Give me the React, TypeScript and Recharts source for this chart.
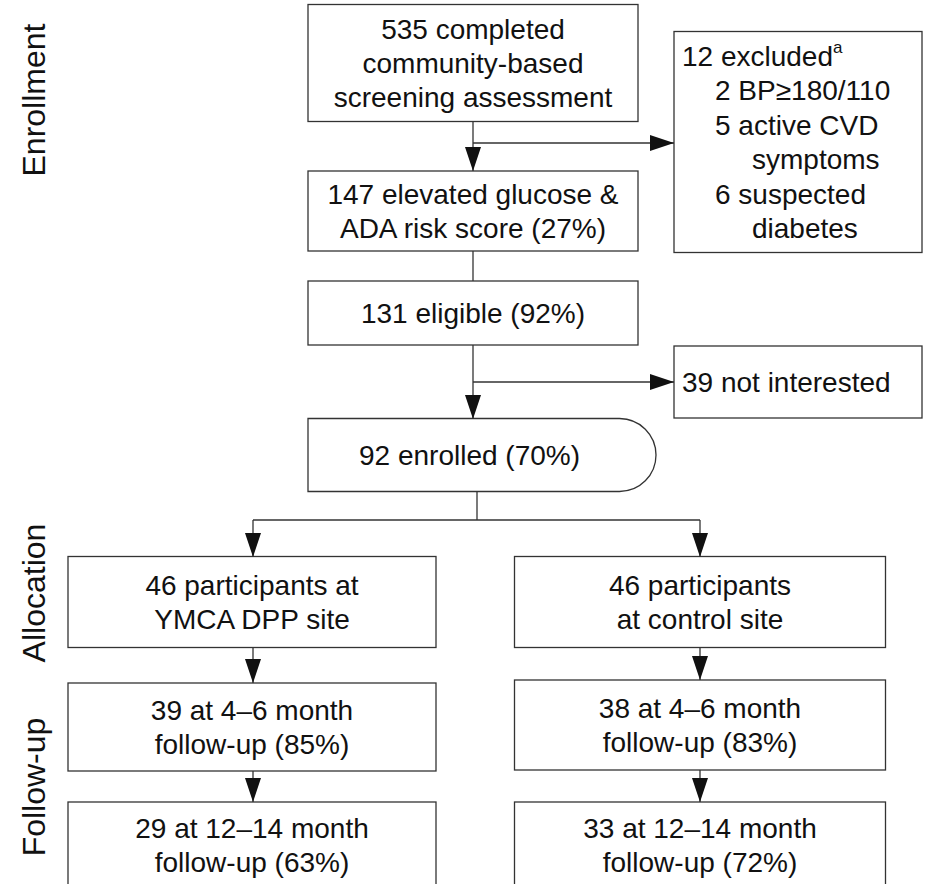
import { ScatterChart, Scatter, XAxis, YAxis, ReferenceLine } from "recharts";

const W = 926;
const H = 884;
const FONT = "'Liberation Sans', Arial, sans-serif";

// flowchart nodes: centre (x, y), size (w, h), lines of text
const boxes = [
  { x: 473, y: 63, w: 330, h: 117, lines: ["535 completed", "community-based", "screening assessment"] },
  { x: 473, y: 211, w: 330, h: 80, lines: ["147 elevated glucose &", "ADA risk score (27%)"] },
  { x: 473, y: 313, w: 330, h: 64, lines: ["131 eligible (92%)"] },
  { x: 798, y: 382, w: 248, h: 72, lines: ["39 not interested"], align: "left" },
  { x: 482, y: 455, w: 348, h: 73, lines: ["92 enrolled (70%)"], round: true },
  { x: 252, y: 602, w: 368, h: 91, lines: ["46 participants at", "YMCA DPP site"] },
  { x: 700, y: 602, w: 371, h: 91, lines: ["46 participants", "at control site"] },
  { x: 252, y: 727, w: 368, h: 88, lines: ["39 at 4\u20136 month", "follow-up (85%)"] },
  { x: 700, y: 725, w: 371, h: 90, lines: ["38 at 4\u20136 month", "follow-up (83%)"] },
  { x: 252, y: 845, w: 368, h: 86, lines: ["29 at 12\u201314 month", "follow-up (63%)"] },
  { x: 700, y: 845, w: 371, h: 86, lines: ["33 at 12\u201314 month", "follow-up (72%)"] },
];

const excludedLines = [
  { text: "12 excluded", indent: 0, sup: "a" },
  { text: "2 BP\u2265180/110", indent: 33 },
  { text: "5 active CVD", indent: 33 },
  { text: "symptoms", indent: 70 },
  { text: "6 suspected", indent: 33 },
  { text: "diabetes", indent: 70 },
];
const excludedBox = [{ x: 798, y: 142, w: 248, h: 221 }];

const segments = [
  [{ x: 473, y: 122 }, { x: 473, y: 171 }],
  [{ x: 473, y: 143 }, { x: 674, y: 143 }],
  [{ x: 473, y: 251 }, { x: 473, y: 281 }],
  [{ x: 473, y: 345 }, { x: 473, y: 419 }],
  [{ x: 473, y: 382 }, { x: 674, y: 382 }],
  [{ x: 477, y: 492 }, { x: 477, y: 520 }],
  [{ x: 253, y: 520 }, { x: 700, y: 520 }],
  [{ x: 253, y: 520 }, { x: 253, y: 557 }],
  [{ x: 700, y: 520 }, { x: 700, y: 557 }],
  [{ x: 253, y: 648 }, { x: 253, y: 683 }],
  [{ x: 700, y: 648 }, { x: 700, y: 680 }],
  [{ x: 253, y: 771 }, { x: 253, y: 802 }],
  [{ x: 700, y: 770 }, { x: 700, y: 802 }],
];

const arrowsDown = [
  { x: 473, y: 171 }, { x: 473, y: 419 }, { x: 253, y: 557 }, { x: 700, y: 557 },
  { x: 253, y: 683 }, { x: 700, y: 680 }, { x: 253, y: 802 }, { x: 700, y: 802 },
];
const arrowsRight = [{ x: 674, y: 143 }, { x: 674, y: 382 }];

const sideLabels = [
  { x: 34, y: 100, text: "Enrollment" },
  { x: 34, y: 593, text: "Allocation" },
  { x: 34, y: 787, text: "Follow-up" },
];

const BoxShape = (p: any) => {
  const { cx, cy, payload } = p;
  const { w, h, lines, round, align } = payload;
  const x0 = cx - w / 2;
  const y0 = cy - h / 2;
  const lh = 34;
  const startY = cy - ((lines.length - 1) * lh) / 2 + 10;
  let outline;
  if (round) {
    const r = h / 2;
    const xr = x0 + w - r;
    outline = (
      <path
        d={`M${x0},${y0} H${xr} A${r},${r} 0 0 1 ${xr},${y0 + h} H${x0} Z`}
        fill="#fff" stroke="#333" strokeWidth={1.3}
      />
    );
  } else {
    outline = <rect x={x0} y={y0} width={w} height={h} fill="#fff" stroke="#333" strokeWidth={1.3} />;
  }
  return (
    <g>
      {outline}
      {lines.map((t: string, i: number) => (
        <text key={i} x={align === "left" ? x0 + 8 : round ? x0 + (w - 25) / 2 : cx} y={startY + i * lh}
          textAnchor={align === "left" ? "start" : "middle"} fontSize={28} fontFamily={FONT} fill="#111">
          {t}
        </text>
      ))}
    </g>
  );
};

const ExcludedShape = (p: any) => {
  const { cx, cy, payload } = p;
  const x0 = cx - payload.w / 2;
  const y0 = cy - payload.h / 2;
  return (
    <g>
      <rect x={x0} y={y0} width={payload.w} height={payload.h} fill="#fff" stroke="#333" strokeWidth={1.3} />
      {excludedLines.map((l, i) => (
        <text key={i} x={x0 + 8 + l.indent} y={y0 + 34 + i * 34.5} fontSize={28} fontFamily={FONT} fill="#111">
          {l.text}
          {l.sup && <tspan fontSize={17} dy={-13}>{l.sup}</tspan>}
        </text>
      ))}
    </g>
  );
};

const DownArrow = (p: any) => (
  <path d={`M${p.cx},${p.cy} l-8,-24 l16,0 Z`} fill="#111" />
);
const RightArrow = (p: any) => (
  <path d={`M${p.cx},${p.cy} l-24,-8 l0,16 Z`} fill="#111" />
);
const SideLabel = (p: any) => (
  <text x={p.cx} y={p.cy} transform={`rotate(-90 ${p.cx} ${p.cy})`} textAnchor="middle"
    dominantBaseline="central" fontSize={32} fontFamily={FONT} fill="#111">
    {p.payload.text}
  </text>
);

export default function App() {
  return (
    <div style={{ position: "absolute", left: 0, top: 0, width: W, height: H, background: "#fff" }}>
      <ScatterChart width={W} height={H} margin={{ top: 0, right: 0, bottom: 0, left: 0 }}>
        <XAxis type="number" dataKey="x" domain={[0, W]} hide />
        <YAxis type="number" dataKey="y" domain={[0, H]} reversed hide width={0} />
        {segments.map((s, i) => (
          <ReferenceLine key={i} segment={s} stroke="#333" strokeWidth={1.3} ifOverflow="visible" />
        ))}
        <Scatter data={boxes} shape={BoxShape} isAnimationActive={false} />
        <Scatter data={excludedBox} shape={ExcludedShape} isAnimationActive={false} />
        <Scatter data={arrowsDown} shape={DownArrow} isAnimationActive={false} />
        <Scatter data={arrowsRight} shape={RightArrow} isAnimationActive={false} />
        <Scatter data={sideLabels} shape={SideLabel} isAnimationActive={false} />
      </ScatterChart>
    </div>
  );
}
